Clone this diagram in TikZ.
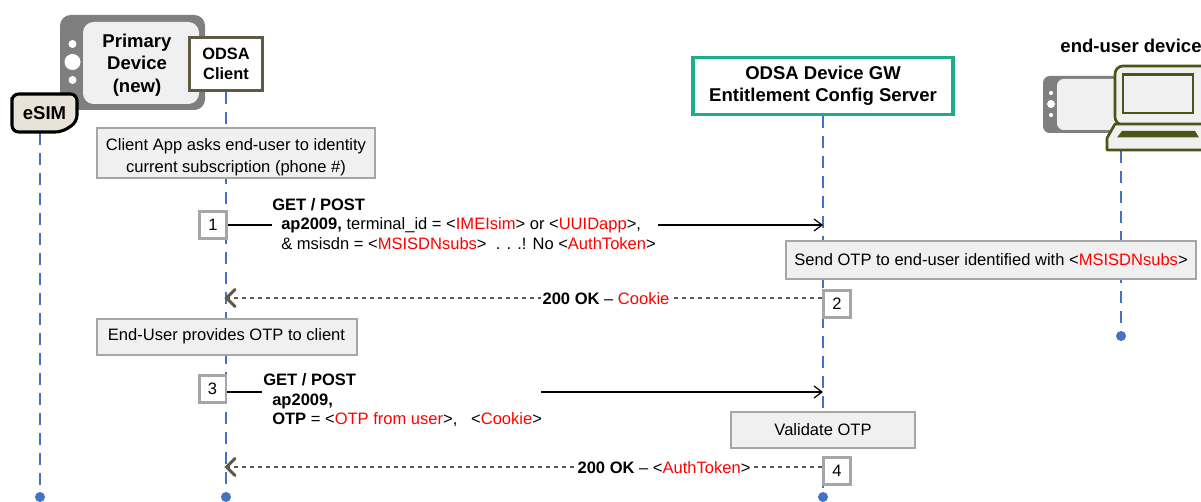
\documentclass[tikz,border=0pt]{standalone}
\usepackage{fontspec}
\setmainfont{Liberation Sans}
\usetikzlibrary{arrows.meta,backgrounds,positioning}
\definecolor{dgrey}{HTML}{7F7F7F}
\definecolor{lgrey}{HTML}{F0F0F0}
\definecolor{bgrey}{HTML}{A6A6A6}
\definecolor{olive}{HTML}{5F5A45}
\definecolor{lapg}{HTML}{4B5518}
\definecolor{teal}{HTML}{1AAE8C}
\definecolor{sand}{HTML}{E8E3D8}
\definecolor{lifeb}{HTML}{4472C4}
\definecolor{red1}{HTML}{FF0000}
\newcommand{\rt}[1]{\textcolor{red1}{#1}}
\tikzset{
  txt/.style={font=\fontsize{12.4}{16.5}\selectfont,text=black,inner sep=0pt,align=center},
  head/.style={font=\fontsize{13.9}{16.8}\selectfont\bfseries,text=black,inner sep=0pt,align=center},
  note/.style={draw=bgrey,fill=lgrey,line width=1.5pt,txt,inner sep=0pt,minimum height=#1},
  note/.default=28pt,
  numbox/.style={draw=bgrey,fill=white,line width=2pt,txt,minimum width=20pt,minimum height=20pt},
  life/.style={draw=lifeb,line width=1pt,dash pattern=on 9pt off 6pt},
  enddot/.style={circle,fill=lifeb,inner sep=0pt,minimum size=7.5pt},
  call/.style={draw=black,line width=1.1pt,-{Straight Barb[length=6pt,width=9pt,line width=0.9pt]}},
  plain/.style={draw=black,line width=1.1pt},
  reply/.style={draw=olive,line width=1.8pt,dash pattern=on 3.6pt off 2.4pt},
  replytip/.style={draw=olive,line width=2.2pt,line cap=round},
  lbl/.style={txt,anchor=base west},
  blbl/.style={lbl,font=\fontsize{12.4}{15}\selectfont\bfseries},
  wlbl/.style={txt,fill=white,inner xsep=1pt,inner ysep=2pt},
}
\begin{document}
\begin{tikzpicture}[x=0.75pt,y=-0.75pt]
\clip (0,0) rectangle (1201,502);
% primary device
\fill[dgrey,rounded corners=8pt] (60,15) rectangle (205,110);
\fill[lgrey,rounded corners=8pt] (83,22) rectangle (199,104);
\fill[white] (72.5,44) circle (3pt) (72.5,62) circle (6pt) (72.5,80) circle (3pt);
\node[head] (primary) at (137,65) {Primary\\Device\\(new)};
\node[draw=olive,fill=white,line width=2.3pt,font=\fontsize{12.3}{15}\selectfont\bfseries,align=center,minimum width=55pt,minimum height=40pt,inner sep=0pt] (client) at (226,64) {ODSA\\Client};
% eSIM
\draw[black,line width=2.3pt,fill=sand,rounded corners=5pt] (12,104) -- (12,132) -- (62,132) -- (77,122) -- (77,94) -- (12,94) -- cycle;
\node[head] (esim) at (44.5,113.5) {eSIM};
\coordinate (esimb) at (40,133);
% GW
\node[draw=teal,fill=white,line width=2.3pt,head,minimum width=195pt,minimum height=43pt] (gw) at (823,86) {ODSA Device GW\\Entitlement Config Server};
% end-user device
\node[head,anchor=base] (eu) at (1131,53) {end-user device};
\fill[dgrey,rounded corners=5pt] (1043,76) rectangle (1130,133);
\fill[lgrey,rounded corners=5pt] (1057,79) rectangle (1130,130);
\fill[white] (1051,93) circle (1.6pt) (1051,104) circle (3pt) (1051,115) circle (1.6pt);
\draw[lapg,line width=2pt,fill=lgrey,rounded corners=6pt] (1115,125) -- (1115,66) -- (1215,66) -- (1215,125) -- cycle;
\draw[lapg,line width=2pt,fill=lgrey] (1123,74.5) rectangle (1193,113);
\draw[lapg,line width=2pt,fill=lgrey,line join=round] (1115,124) -- (1107,138) -- (1107,150) -- (1215,150) -- (1215,124) -- cycle;
\fill[lapg] (1122,131) -- (1195,131) -- (1199,137.5) -- (1117,137.5) -- cycle;
\coordinate (lap) at (1121,151);
% lifeline ends
\node[enddot] (d0) at (40,497) {};
\node[enddot] (d1) at (226,497) {};
\node[enddot] (d2) at (823,497) {};
\node[enddot] (d3) at (1121,336) {};
\begin{pgfonlayer}{background}
\draw[life] (esimb) -- (d0);
\draw[life] (client.south) -- (d1);
\draw[life] (gw.south) -- (d2);
\draw[life] (lap) -- (d3);
\end{pgfonlayer}
% notes
\node[note=37pt,minimum width=209pt] (n1) at (236,153) {\rule{0pt}{15pt}Client App asks end-user to identity\\current subscription (phone \#)};
\node[note=28pt,minimum width=308pt] (n2) at (991,260) {Send OTP to end-user identified with <\rt{MSISDNsubs}>};
\node[note=27pt,minimum width=195pt] (n3) at (226.5,336.5) {End-User provides OTP to client};
\node[note=27pt,minimum width=138pt] (n4) at (823,429.5) {Validate OTP};
% numbers
\node[numbox] (b1) at (213,225) {1};
\node[numbox] (b2) at (837,304) {2};
\node[numbox] (b3) at (212.5,389) {3};
\node[numbox] (b4) at (837,471) {4};
% message 1
\coordinate (m1a) at (272,225);
\coordinate (m1b) at (658,225);
\coordinate (m1c) at (823,225);
\draw[plain] (b1) -- (m1a);
\draw[call] (m1b) -- (m1c);
\node[blbl] (t11) at (272,210) {GET / POST};
\node[lbl] (t12) at (281,229.5) {\textbf{ap2009,} terminal\_id = <\rt{IMEIsim}> or <\rt{UUIDapp}>,};
\node[lbl] (t13) at (281,249.5) {\& msisdn = <\rt{MSISDNsubs}>\ \ . . .! No <\rt{AuthToken}>};
% reply 2
\coordinate (l1) at (226,298);
\draw[reply] (b2.west |- 0,298) -- (l1);
\draw[replytip] (235,289.5) -- (226.5,298) -- (235,306.5);
\node[wlbl] (t2) at (606,298.5) {\textbf{200 OK} – \rt{Cookie}};
% message 3
\coordinate (m3a) at (262,392);
\coordinate (m3b) at (541,392);
\coordinate (m3c) at (823,392);
\draw[plain] (b3.east |- m3a) -- (m3a);
\draw[call] (m3b) -- (m3c);
\node[blbl] (t31) at (263,385.5) {GET / POST};
\node[blbl] (t32) at (272,405) {ap2009,};
\node[lbl] (t33) at (272,424.5) {\textbf{OTP} = <\rt{OTP from user}>,\ \ \ <\rt{Cookie}>};
% reply 4
\coordinate (l4) at (226,467);
\draw[reply] (b4.west |- 0,467) -- (l4);
\draw[replytip] (235,458.5) -- (226.5,467) -- (235,475.5);
\node[wlbl] (t4) at (664,467.5) {\textbf{200 OK} – <\rt{AuthToken}>};
\end{tikzpicture}
\end{document}
